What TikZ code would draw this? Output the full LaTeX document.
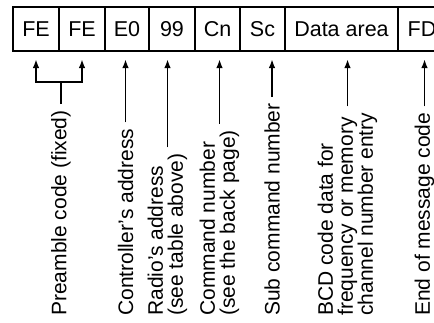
\documentclass[tikz,border=0pt]{standalone}
\usepackage{fontspec}
\setmainfont{Liberation Sans}
\usetikzlibrary{positioning,arrows.meta}
\tikzset{
  cell/.style={draw, line width=1.9pt, outer sep=0pt, inner sep=0pt,
    minimum height=44pt, font=\fontsize{21.5}{20}\selectfont},
  note/.style={rotate=90, anchor=west, align=left, inner sep=2pt,
    font=\fontsize{21}{20}\selectfont},
  lead/.style={-{Latex[length=9pt,width=6.5pt]}, line width=1.8pt,
    shorten >=8pt, shorten <=4pt}
}
\begin{document}
\begin{tikzpicture}[x=1pt,y=1pt]
            \useasboundingbox (0,0) rectangle (434,-322);
            \node[cell, minimum width=46pt] (fe1) at (36,-29) {FE};
            \node[cell, minimum width=46pt, right=0pt of fe1] (fe2) {FE};
            \node[cell, minimum width=44pt, right=0pt of fe2] (e0) {E0};
            \node[cell, minimum width=46pt, right=0pt of e0] (radio) {99};
            \node[cell, minimum width=45pt, right=0pt of radio] (cn) {Cn};
            \node[cell, minimum width=45pt, right=0pt of cn] (sc) {Sc};
            \node[cell, minimum width=113pt, right=0pt of sc] (data) {Data area};
            \node[cell, minimum width=48pt, right=0pt of data] (fd) {FD};
            \node[note] (pre) at (61,-318) {Preamble code (fixed)};
            \node[note] (ctrl) at (125.5,-318) {Controller’s address};
            \node[note] (rad) at (167.5,-318) {Radio’s address\\(see table above)};
            \node[note] (cmd) at (219.5,-318) {Command number\\(see the back page)};
            \node[note] (sub) at (272,-318) {Sub command number};
            \node[note] (bcd) at (347.5,-318) {BCD code data for\\frequency or memory\\channel number entry};
            \node[note] (eom) at (424.5,-318) {End of message code};
            \coordinate (brk) at (60,-82);
            \draw[lead, {Latex[length=9pt,width=6.5pt]}-{Latex[length=9pt,width=6.5pt]}, shorten <=8pt]
              (fe1.south) |- (brk) -| (fe2.south);
            \draw[line width=1.8pt, shorten <=4pt] (pre.east) -- (pre.east |- brk);
            \draw[lead] (ctrl.east) -- (ctrl.east |- e0.south);
            \draw[lead] (rad.east) -- (rad.east |- radio.south);
            \draw[lead] (cmd.east) -- (cmd.east |- cn.south);
            \draw[lead] (sub.east) -- (sub.east |- sc.south);
            \draw[lead] (bcd.east) -- (bcd.east |- data.south);
            \draw[lead] (eom.east) -- (eom.east |- fd.south);
        \end{tikzpicture}
\end{document}
